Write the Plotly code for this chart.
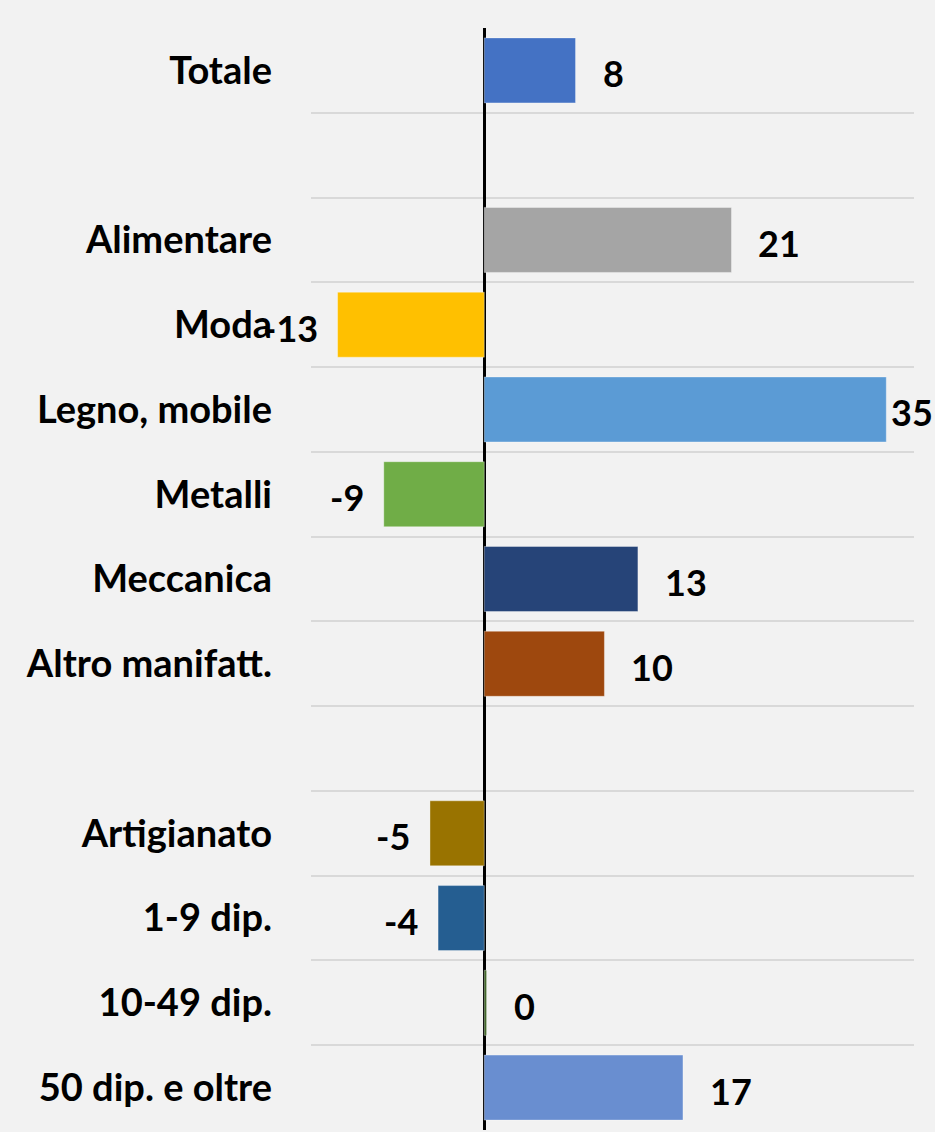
import plotly.graph_objects as go

# categorie (le righe vuote separano i gruppi)
categorie = ["Totale", " ", "Alimentare", "Moda", "Legno, mobile", "Metalli",
             "Meccanica", "Altro manifatt.", "  ", "Artigianato", "1-9 dip.",
             "10-49 dip.", "50 dip. e oltre"]
valori = [7.9, None, 21.4, -12.7, 34.8, -8.7, 13.3, 10.4, None, -4.7, -4.0, 0.2, 17.2]
colori = ["#4472C4", "#F2F2F2", "#A5A5A5", "#FFC000", "#5B9BD5", "#70AD47",
          "#264478", "#9E480E", "#F2F2F2", "#997300", "#255E91", "#43682B", "#698ED0"]

FONT = "Lato, 'Open Sans', sans-serif"

fig = go.Figure()
fig.add_trace(go.Bar(
    y=categorie, x=valori, orientation="h",
    marker=dict(color=colori, line=dict(color="rgba(255,255,255,0.35)", width=1)),
    hoverinfo="skip",
))

# etichette dei valori
vmax = max(v for v in valori if v is not None)
for cat, v in zip(categorie, valori):
    if v is None:
        continue
    if v >= 0:
        shift = 3 if v == vmax else 25
        anchor = "left"
    else:
        shift = -18
        anchor = "right"
    fig.add_annotation(x=v, y=cat, text=f"{round(v):d}", showarrow=False,
                       xanchor=anchor, xshift=shift, yshift=-3,
                       font=dict(family=FONT, size=36, color="black", weight="bold"))

fig.update_layout(
    width=935, height=1132,
    margin=dict(l=311, r=21, t=28, b=2),
    paper_bgcolor="#F2F2F2", plot_bgcolor="#F2F2F2",
    bargap=0.233, showlegend=False,
    font=dict(family=FONT, size=38, color="black", weight="bold"),
)
fig.update_xaxes(range=[-15, 37.2], showgrid=False, showticklabels=False,
                 zeroline=True, zerolinecolor="black", zerolinewidth=2.5,
                 fixedrange=True)
fig.update_yaxes(type="category", categoryorder="array", categoryarray=categorie,
                 autorange="reversed", tickson="boundaries",
                 showgrid=True, gridcolor="#D9D9D9", gridwidth=2,
                 ticks="", ticklabelstandoff=38,
                 tickfont=dict(family=FONT, size=38, color="black", weight="bold"))

fig.write_html("out.html", config={"displayModeBar": False},
               post_script="document.body.style.margin='0';")
